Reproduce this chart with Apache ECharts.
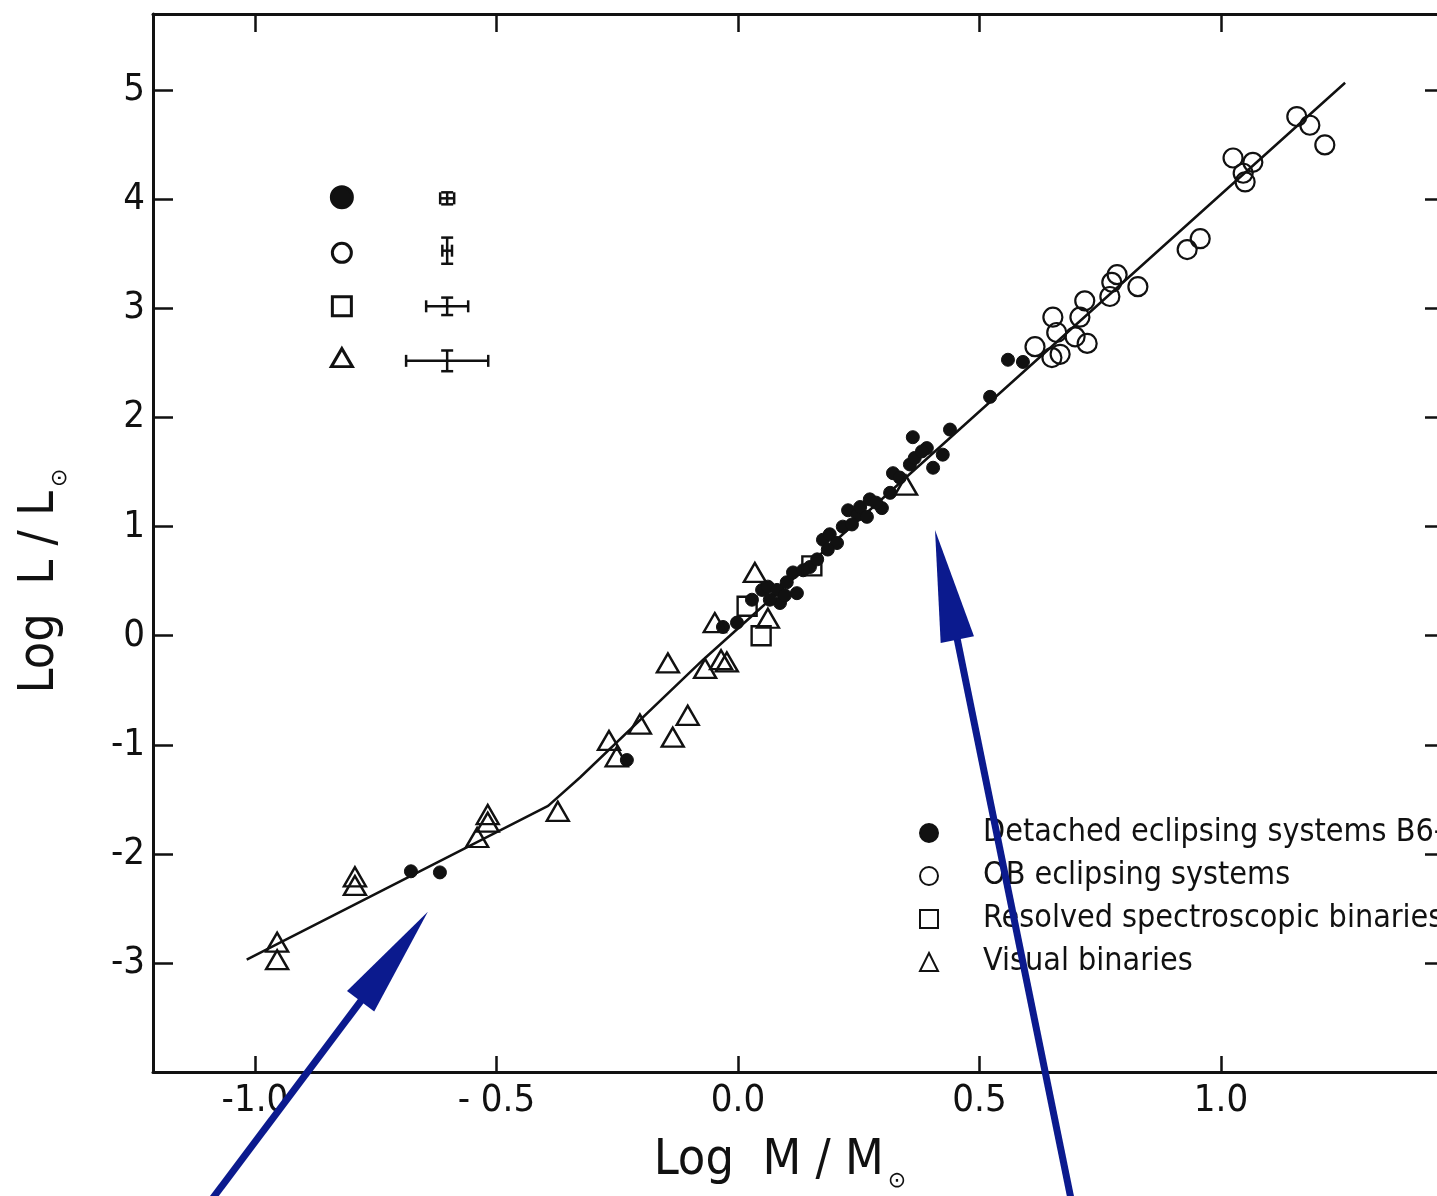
<!DOCTYPE html>
<html><head><meta charset="utf-8">
<script src="https://cdn.jsdelivr.net/npm/echarts@6/dist/echarts.min.js"></script>
<style>html,body{margin:0;padding:0;background:#fff}#c{width:1437px;height:1196px}</style>
</head><body><div id="c"></div>
<script>
// ---- tick labels ----
const xTicks = [-1, -0.5, 0, 0.5, 1];
const xTickLabels = ['-1.0', '- 0.5', '0.0', '0.5', '1.0'];
const yTicks = [-3, -2, -1, 0, 1, 2, 3, 4, 5];
const yTickLabels = ['-3', '-2', '-1', '0', '1', '2', '3', '4', '5'];

// ---- series names ----
const seriesNames = ['Detached eclipsing systems B6-M', 'OB eclipsing systems', 'Resolved spectroscopic binaries', 'Visual binaries'];

// ---- Detached eclipsing systems (filled circles) ----
const detX = [-0.677,-0.617,-0.230,-0.031,-0.002,0.050,0.062,0.081,0.101,0.114,0.122,0.087,0.066,0.149,0.164,0.176,0.190,0.205,0.217,0.228,0.248,0.253,0.267,0.273,0.298,0.315,0.321,0.356,0.366,0.362,0.391,0.404,0.424,0.439,0.522,0.559,0.590,0.029,0.097,0.135,0.186,0.236,0.286,0.335,0.381];
const detY = [-2.16,-2.17,-1.14,0.08,0.12,0.42,0.45,0.42,0.49,0.58,0.39,0.30,0.33,0.63,0.70,0.88,0.93,0.85,1.00,1.15,1.11,1.18,1.09,1.25,1.17,1.31,1.49,1.57,1.63,1.82,1.72,1.54,1.66,1.89,2.19,2.53,2.51,0.33,0.37,0.60,0.79,1.02,1.22,1.45,1.69];

// ---- OB eclipsing systems (open circles) ----
const obX = [0.615,0.652,0.660,0.650,0.667,0.698,0.723,0.718,0.708,0.770,0.774,0.785,0.828,0.930,0.957,1.025,1.046,1.050,1.066,1.157,1.184,1.215];
const obY = [2.65,2.92,2.78,2.55,2.58,2.74,2.68,3.07,2.92,3.11,3.24,3.31,3.20,3.54,3.64,4.38,4.24,4.16,4.34,4.76,4.68,4.50];

// ---- Resolved spectroscopic binaries (squares) ----
const resX = [0.019, 0.048, 0.153];
const resY = [0.27, 0.00, 0.64];

// ---- Visual binaries (triangles) ----
const visX = [-0.954,-0.954,-0.793,-0.793,-0.540,-0.518,-0.518,-0.373,-0.267,-0.251,-0.203,-0.135,-0.104,-0.145,-0.068,-0.035,-0.023,-0.048,0.035,0.062,0.348];
const visY = [-2.81,-2.97,-2.21,-2.29,-1.85,-1.64,-1.71,-1.61,-0.96,-1.11,-0.81,-0.93,-0.73,-0.25,-0.30,-0.22,-0.24,0.12,0.58,0.16,1.38];

// ---- fitted mass-luminosity relation ----
const fitX = [-1.017, -0.393, -0.327, -0.072, 1.257];
const fitY = [-2.97, -1.56, -1.30, -0.22, 5.07];

// ---- inset key: symbols and typical error bars ----
const keyX = [-0.82, -0.82, -0.82, -0.82];
const keyY = [4.02, 3.51, 3.02, 2.55];
const errX = [-0.602, -0.602, -0.602, -0.602];
const errY = [4.01, 3.53, 3.02, 2.52];
const errDX = [0.0145, 0.010, 0.0435, 0.085];
const errDY = [0.055, 0.12, 0.08, 0.095];

// ---- annotation arrows (tail -> tip) ----
const arrowTailX = [-1.120, 0.698];
const arrowTailY = [-5.35, -5.35];
const arrowTipX = [-0.642, 0.408];
const arrowTipY = [-2.53, 0.97];

const zip = (a, b) => a.map((v, i) => [v, b[i]]);
const F = "'Liberation Sans Narrow','DejaVu Sans Condensed','Liberation Sans',sans-serif";
const INK = '#111';
const X_MIN = -1.211, X_MAX = 1.4555, Y_MIN = -4.0, Y_MAX = 5.70;

const chart = echarts.init(document.getElementById('c'), null, {renderer: 'canvas'});

function fmt(ticks, labels) {
  return v => { const i = ticks.findIndex(t => Math.abs(t - v) < 1e-6); return i >= 0 ? labels[i] : ''; };
}
const frameLine = {show: true, onZero: false, lineStyle: {color: INK, width: 3}};
const tickStyle = (vals, len) => ({show: true, inside: true, length: len, customValues: vals, lineStyle: {color: INK, width: 2.5}});

const keySymbols = ['circle', 'circle', 'rect', 'triangle'];
const keySizes = [21, 19, 19, [21, 18]];
const keyFill = [INK, 'rgba(0,0,0,0)', 'rgba(0,0,0,0)', 'rgba(0,0,0,0)'];

const option = {
  backgroundColor: '#fff',
  animation: false,
  grid: {left: 153, right: -4, top: 14, bottom: 124, containLabel: false, outerBoundsMode: 'none'},
  legend: {
    data: seriesNames,
    orient: 'vertical',
    left: 919, top: 813, padding: 0,
    itemWidth: 18, itemHeight: 18, itemGap: 3,
    textStyle: {fontFamily: F, fontSize: 32, color: INK, lineHeight: 40, padding: [0, 0, 0, 40]},
    selectedMode: false
  },
  xAxis: [{
    type: 'value', min: X_MIN, max: X_MAX, position: 'bottom',
    axisLine: frameLine, axisTick: tickStyle(xTicks, 16), splitLine: {show: false},
    axisLabel: {customValues: xTicks, formatter: fmt(xTicks, xTickLabels), fontFamily: F, fontSize: 38, color: INK, margin: 10},
    name: '{m|Log  M / M}{s|⊙}', nameLocation: 'middle', nameGap: 64,
    nameTextStyle: {color: INK, padding: [0, 34, 0, 0],
      rich: {m: {fontFamily: F, fontSize: 50, color: INK, verticalAlign: 'top', lineHeight: 50},
             s: {fontFamily: 'DejaVu Sans', fontSize: 22, color: INK, verticalAlign: 'top', lineHeight: 22, padding: [34, 0, 0, 4]}}}
  }, {
    type: 'value', min: X_MIN, max: X_MAX, position: 'top',
    axisLine: frameLine, axisTick: tickStyle(xTicks, 18), splitLine: {show: false}, axisLabel: {show: false}
  }],
  yAxis: [{
    type: 'value', min: Y_MIN, max: Y_MAX, position: 'left',
    axisLine: frameLine, axisTick: tickStyle(yTicks, 20), splitLine: {show: false},
    axisLabel: {customValues: yTicks, formatter: fmt(yTicks, yTickLabels), fontFamily: F, fontSize: 38, color: INK, margin: 8},
    name: '{m|Log  L / L}{s|⊙}', nameLocation: 'middle', nameGap: 88, nameRotate: 90,
    nameTextStyle: {color: INK, padding: [0, 76, 0, 0],
      rich: {m: {fontFamily: F, fontSize: 50, color: INK, verticalAlign: 'top', lineHeight: 50},
             s: {fontFamily: 'DejaVu Sans', fontSize: 22, color: INK, verticalAlign: 'top', lineHeight: 22, padding: [34, 0, 0, 4]}}}
  }, {
    type: 'value', min: Y_MIN, max: Y_MAX, position: 'right',
    axisLine: frameLine, axisTick: tickStyle(yTicks, 16), splitLine: {show: false}, axisLabel: {show: false}
  }],
  series: [
    {type: 'line', name: 'fit', data: zip(fitX, fitY), symbol: 'none', lineStyle: {color: INK, width: 2.5}, z: 2, silent: true},
    {type: 'scatter', name: seriesNames[0], data: zip(detX, detY), symbol: 'circle', symbolSize: 13,
      itemStyle: {color: INK, borderColor: INK, borderWidth: 1, opacity: 1}, z: 4},
    {type: 'scatter', name: seriesNames[1], data: zip(obX, obY), symbol: 'circle', symbolSize: 19,
      itemStyle: {color: 'rgba(0,0,0,0)', borderColor: INK, borderWidth: 2.2, opacity: 1}, z: 4},
    {type: 'scatter', name: seriesNames[2], data: zip(resX, resY), symbol: 'rect', symbolSize: 19,
      itemStyle: {color: 'rgba(0,0,0,0)', borderColor: INK, borderWidth: 2.4, opacity: 1}, z: 4},
    {type: 'scatter', name: seriesNames[3], data: zip(visX, visY), symbol: 'triangle', symbolSize: [22, 19],
      itemStyle: {color: 'rgba(0,0,0,0)', borderColor: INK, borderWidth: 2.4, opacity: 1}, z: 4},
    {type: 'scatter', name: 'key', data: keyX.map((x, i) => ({value: [x, keyY[i]], symbol: keySymbols[i], symbolSize: keySizes[i],
        itemStyle: {color: keyFill[i], borderColor: INK, borderWidth: 3, opacity: 1}})), z: 4, silent: true},
    {type: 'custom', name: 'errors', silent: true, z: 4,
      data: errX.map((x, i) => [x, errY[i], errDX[i], errDY[i]]),
      renderItem: function (params, api) {
        const x = api.value(0), y = api.value(1), dx = api.value(2), dy = api.value(3);
        const L = api.coord([x - dx, y]), R = api.coord([x + dx, y]);
        const T = api.coord([x, y + dy]), B = api.coord([x, y - dy]);
        const c = 6, st = {stroke: INK, lineWidth: 2.5};
        const seg = (a, b, cc, d) => ({type: 'line', shape: {x1: a, y1: b, x2: cc, y2: d}, style: st});
        return {type: 'group', children: [
          seg(L[0], L[1], R[0], R[1]), seg(L[0], L[1] - c, L[0], L[1] + c), seg(R[0], R[1] - c, R[0], R[1] + c),
          seg(T[0], T[1], B[0], B[1]), seg(T[0] - c, T[1], T[0] + c, T[1]), seg(B[0] - c, B[1], B[0] + c, B[1])
        ]};
      }},
    {type: 'custom', name: 'arrows', silent: true, z: 10, clip: false,
      data: arrowTailX.map((x, i) => [x, arrowTailY[i], arrowTipX[i], arrowTipY[i]]),
      renderItem: function (params, api) {
        const a = api.coord([api.value(0), api.value(1)]);
        const b = api.coord([api.value(2), api.value(3)]);
        const dx = b[0] - a[0], dy = b[1] - a[1], len = Math.hypot(dx, dy);
        const ux = dx / len, uy = dy / len, nx = -uy, ny = ux;
        const hl = 112, hw = 17;
        const bx = b[0] - ux * hl, by = b[1] - uy * hl;
        const blue = '#0b1a8e';
        return {type: 'group', children: [
          {type: 'line', shape: {x1: a[0], y1: a[1], x2: bx + ux * 4, y2: by + uy * 4}, style: {stroke: blue, lineWidth: 7}},
          {type: 'polygon', shape: {points: [[b[0], b[1]], [bx + nx * hw, by + ny * hw], [bx - nx * hw, by - ny * hw]]}, style: {fill: blue}}
        ]};
      }}
  ]
};
chart.setOption(option);
</script></body></html>
